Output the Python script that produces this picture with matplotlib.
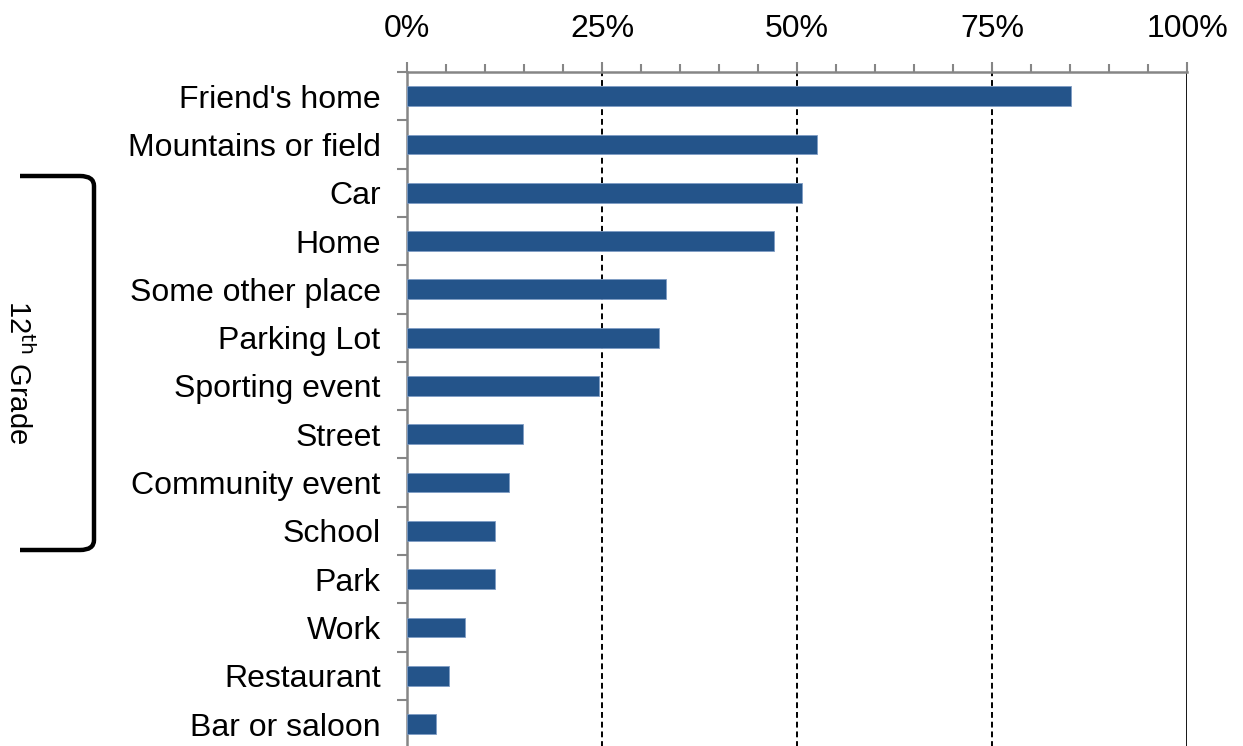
import matplotlib
matplotlib.use("Agg")
import matplotlib.pyplot as plt
from matplotlib.ticker import MultipleLocator, FixedLocator
from matplotlib.path import Path
from matplotlib.patches import PathPatch

plt.rcParams['font.family'] = ['Liberation Sans', 'DejaVu Sans']

categories = ["Friend's home", "Mountains or field", "Car", "Home", "Some other place",
              "Parking Lot", "Sporting event", "Street", "Community event", "School",
              "Park", "Work", "Restaurant", "Bar or saloon"]
values = [85.1, 52.6, 50.7, 47.1, 33.2, 32.3, 24.6, 14.9, 13.1, 11.3, 11.3, 7.4, 5.4, 3.7]
xtick_labels = ["0%", "25%", "50%", "75%", "100%"]

W, H = 1243, 746
fig = plt.figure(figsize=(W / 100, H / 100), dpi=100)
ax_left, ax_right, ax_top = 407 / W, 1187 / W, 1 - 72 / H
ax_h = 14 * 48.3 / H
ax = fig.add_axes([ax_left, ax_top - ax_h, ax_right - ax_left, ax_h])

n = len(categories)
y = list(range(n))
ax.barh(y, values, height=0.41, color='#24548A', edgecolor='#7F9CC4', linewidth=0.6, zorder=3)
ax.set_ylim(n - 0.5, -0.5)
ax.set_xlim(0, 100)

# grid lines
for xv in [25, 50, 75]:
    ax.axvline(xv, color='black', linestyle=(0, (3, 2)), linewidth=1.4, zorder=1)
ax.axvline(100, color='black', linewidth=2.0, zorder=1)

for s in ['right', 'bottom']:
    ax.spines[s].set_visible(False)
for s in ['left', 'top']:
    ax.spines[s].set_color('#868686')
    ax.spines[s].set_linewidth(1.8)

ax.xaxis.tick_top()
ax.set_xticks([0, 25, 50, 75, 100])
ax.set_xticklabels(xtick_labels)
ax.xaxis.set_minor_locator(MultipleLocator(5))
ax.tick_params(axis='x', which='major', length=7, width=1.5, color='#868686', pad=13, labelsize=23, top=True, bottom=False)
ax.tick_params(axis='x', which='minor', length=6, width=1.5, color='#868686', top=True, bottom=False)

ax.set_yticks(y)
ax.set_yticklabels(categories)
ax.yaxis.set_minor_locator(FixedLocator([i + 0.5 for i in range(-1, n)]))
ax.tick_params(axis='y', which='major', length=0, pad=19, labelsize=23)
ax.tick_params(axis='y', which='minor', length=7, width=1.5, color='#868686')

# bracket
def fx(px):
    return px / W
def fy(py):
    return 1 - py / H
verts = [(fx(20), fy(176)), (fx(80), fy(176)), (fx(94), fy(176)), (fx(94), fy(186)),
         (fx(94), fy(540)), (fx(94), fy(550)), (fx(80), fy(550)), (fx(20), fy(550))]
codes = [Path.MOVETO, Path.LINETO, Path.CURVE3, Path.CURVE3, Path.LINETO,
         Path.CURVE3, Path.CURVE3, Path.LINETO]
fig.patches.append(PathPatch(Path(verts, codes), transform=fig.transFigure,
                             fill=False, linewidth=3.2, edgecolor='black', capstyle='butt'))
fig.text(fx(18), fy(372), r"12$^{\mathrm{th}}$ Grade", rotation=270, ha='center', va='center', fontsize=21)

fig.savefig("out.png", dpi=100)
